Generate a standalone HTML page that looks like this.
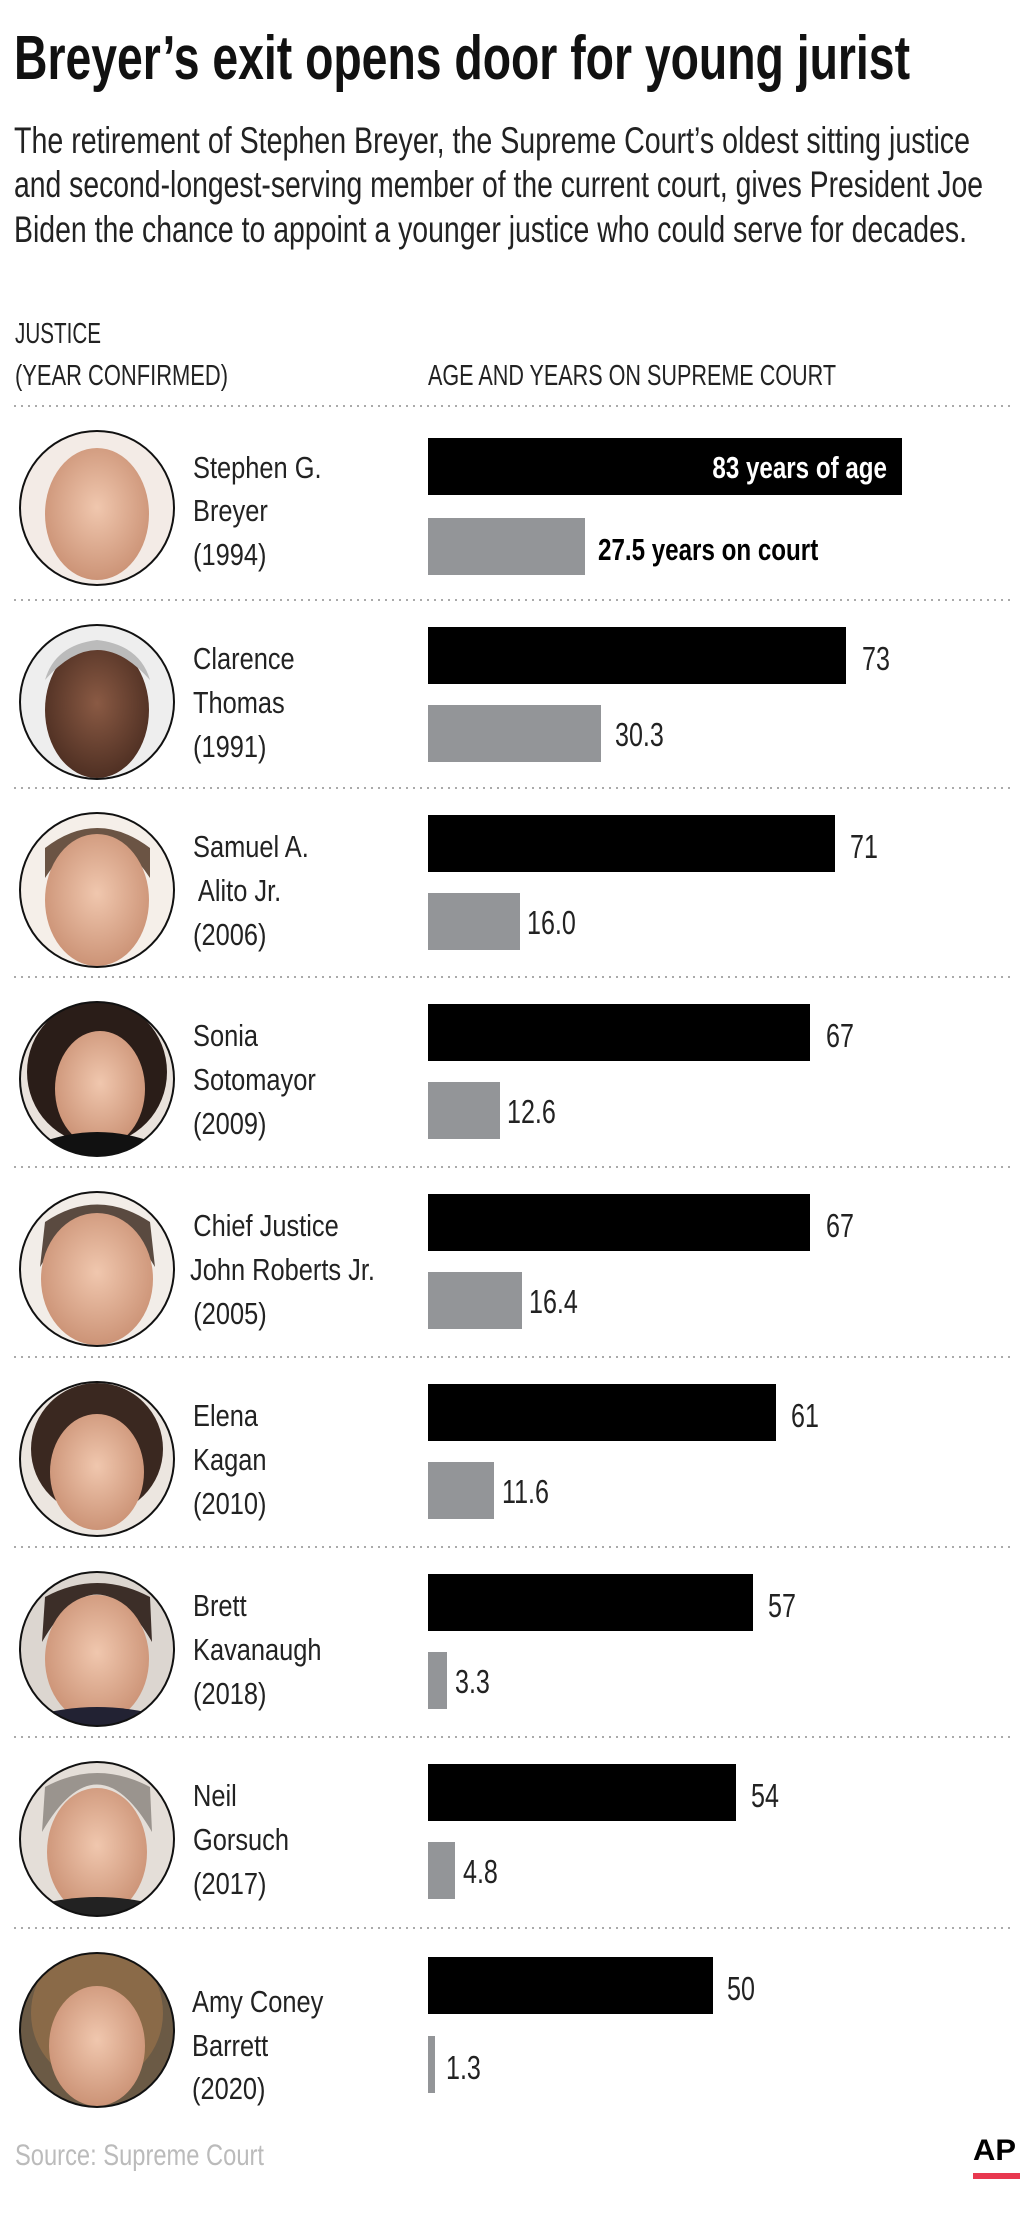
<!DOCTYPE html>
<html><head><meta charset="utf-8"><style>
html,body{margin:0;padding:0;background:#fff;}
svg{display:block;}
text{font-family:"Liberation Sans",sans-serif;}
</style></head><body>
<svg width="1024" height="2229" viewBox="0 0 1024 2229" xmlns="http://www.w3.org/2000/svg">
<defs>
<radialGradient id="skin" cx="50%" cy="45%" r="60%"><stop offset="0" stop-color="#f0c7ae"/><stop offset="1" stop-color="#c98f72"/></radialGradient>
<radialGradient id="dskin" cx="50%" cy="45%" r="60%"><stop offset="0" stop-color="#8a5a44"/><stop offset="1" stop-color="#4a2c20"/></radialGradient>
<clipPath id="cc"><circle cx="97" cy="102" r="77"/></clipPath>
</defs>
<text x="14" y="79" font-size="62" font-weight="bold" textLength="896" lengthAdjust="spacingAndGlyphs" fill="#111">Breyer’s exit opens door for young jurist</text>
<g font-size="37" fill="#222">
<text x="14" y="153" textLength="956" lengthAdjust="spacingAndGlyphs">The retirement of Stephen Breyer, the Supreme Court’s oldest sitting justice</text>
<text x="14" y="197" textLength="969" lengthAdjust="spacingAndGlyphs">and second-longest-serving member of the current court, gives President Joe</text>
<text x="14" y="242" textLength="953" lengthAdjust="spacingAndGlyphs">Biden the chance to appoint a younger justice who could serve for decades.</text>
</g>
<g font-size="29" fill="#222">
<text x="15" y="343" textLength="86" lengthAdjust="spacingAndGlyphs">JUSTICE</text>
<text x="15" y="385" textLength="213" lengthAdjust="spacingAndGlyphs">(YEAR CONFIRMED)</text>
<text x="428" y="385" textLength="408" lengthAdjust="spacingAndGlyphs">AGE AND YEARS ON SUPREME COURT</text>
</g>
<g stroke="#aaa" stroke-width="2" stroke-dasharray="2 5">
<line x1="14" y1="406" x2="1012" y2="406"/>
<line x1="14" y1="600" x2="1012" y2="600"/>
<line x1="14" y1="788" x2="1012" y2="788"/>
<line x1="14" y1="977" x2="1012" y2="977"/>
<line x1="14" y1="1167" x2="1012" y2="1167"/>
<line x1="14" y1="1357" x2="1012" y2="1357"/>
<line x1="14" y1="1547" x2="1012" y2="1547"/>
<line x1="14" y1="1737" x2="1012" y2="1737"/>
<line x1="14" y1="1928" x2="1012" y2="1928"/>
</g>

<g transform="translate(0,406)">
<g clip-path="url(#cc)"><circle cx="97" cy="102" r="77" fill="#f3ebe6"/><ellipse cx="97" cy="108" rx="52" ry="66" fill="url(#skin)"/></g>
<circle cx="97" cy="102" r="77" fill="none" stroke="#111" stroke-width="2"/>
<g font-size="31" fill="#222" transform="translate(193,0) scale(0.82,1)"><text x="0" y="72">Stephen G.</text><text x="0" y="115">Breyer</text><text x="0" y="159">(1994)</text></g>
<rect x="428" y="32" width="474" height="57" fill="#000"/>
<rect x="428" y="112" width="157" height="57" fill="#939598"/>
<g transform="translate(887,72) scale(0.78,1)"><text x="0" y="0" font-size="31" font-weight="bold" fill="#fff" text-anchor="end">83 years of age</text></g>
<g transform="translate(598,154) scale(0.78,1)"><text x="0" y="0" font-size="31" font-weight="bold" fill="#000">27.5 years on court</text></g>
</g>

<g transform="translate(0,600)">
<g clip-path="url(#cc)"><circle cx="97" cy="102" r="77" fill="#eee"/><ellipse cx="97" cy="110" rx="52" ry="68" fill="url(#dskin)"/><path d="M45 80 Q97 20 150 80 Q140 45 97 40 Q55 45 45 80Z" fill="#bbb"/></g>
<circle cx="97" cy="102" r="77" fill="none" stroke="#111" stroke-width="2"/>
<g font-size="31" fill="#222" transform="translate(193,0) scale(0.82,1)"><text x="0" y="69">Clarence</text><text x="0" y="113">Thomas</text><text x="0" y="157">(1991)</text></g>
<rect x="428" y="27" width="418" height="57" fill="#000"/><g transform="translate(862,70) scale(0.76,1)"><text font-size="33" fill="#222">73</text></g>
<rect x="428" y="105" width="173" height="57" fill="#939598"/><g transform="translate(615,146) scale(0.76,1)"><text font-size="33" fill="#222">30.3</text></g>
</g>

<g transform="translate(0,788)">
<g clip-path="url(#cc)"><circle cx="97" cy="102" r="77" fill="#f5efe9"/><path d="M45 90 Q97 10 150 90 L150 60 Q97 20 45 60Z" fill="#6b5444"/><ellipse cx="97" cy="112" rx="52" ry="66" fill="url(#skin)"/></g>
<circle cx="97" cy="102" r="77" fill="none" stroke="#111" stroke-width="2"/>
<g font-size="31" fill="#222" transform="translate(193,0) scale(0.82,1)"><text x="0" y="69">Samuel A.</text><text x="6" y="113">Alito Jr.</text><text x="0" y="157">(2006)</text></g>
<rect x="428" y="27" width="407" height="57" fill="#000"/><g transform="translate(850,70) scale(0.76,1)"><text font-size="33" fill="#222">71</text></g>
<rect x="428" y="105" width="92" height="57" fill="#939598"/><g transform="translate(527,146) scale(0.76,1)"><text font-size="33" fill="#222">16.0</text></g>
</g>

<g transform="translate(0,977)">
<g clip-path="url(#cc)"><circle cx="97" cy="102" r="77" fill="#e9e2dc"/><ellipse cx="97" cy="95" rx="70" ry="72" fill="#2a1d18"/><ellipse cx="100" cy="112" rx="45" ry="58" fill="url(#skin)"/><path d="M30 170 Q97 140 165 170 L165 190 L30 190Z" fill="#111"/></g>
<circle cx="97" cy="102" r="77" fill="none" stroke="#111" stroke-width="2"/>
<g font-size="31" fill="#222" transform="translate(193,0) scale(0.82,1)"><text x="0" y="69">Sonia</text><text x="0" y="113">Sotomayor</text><text x="0" y="157">(2009)</text></g>
<rect x="428" y="27" width="382" height="57" fill="#000"/><g transform="translate(826,70) scale(0.76,1)"><text font-size="33" fill="#222">67</text></g>
<rect x="428" y="105" width="72" height="57" fill="#939598"/><g transform="translate(507,146) scale(0.76,1)"><text font-size="33" fill="#222">12.6</text></g>
</g>

<g transform="translate(0,1167)">
<g clip-path="url(#cc)"><circle cx="97" cy="102" r="77" fill="#f2ede8"/><path d="M40 100 Q97 5 155 100 L150 55 Q97 20 45 55Z" fill="#5a4a40"/><ellipse cx="97" cy="112" rx="56" ry="66" fill="url(#skin)"/></g>
<circle cx="97" cy="102" r="77" fill="none" stroke="#111" stroke-width="2"/>
<g font-size="31" fill="#222" transform="translate(190,0) scale(0.82,1)"><text x="4" y="69">Chief Justice</text><text x="0" y="113">John Roberts Jr.</text><text x="4" y="157">(2005)</text></g>
<rect x="428" y="27" width="382" height="57" fill="#000"/><g transform="translate(826,70) scale(0.76,1)"><text font-size="33" fill="#222">67</text></g>
<rect x="428" y="105" width="94" height="57" fill="#939598"/><g transform="translate(529,146) scale(0.76,1)"><text font-size="33" fill="#222">16.4</text></g>
</g>

<g transform="translate(0,1357)">
<g clip-path="url(#cc)"><circle cx="97" cy="102" r="77" fill="#ece6e0"/><ellipse cx="97" cy="92" rx="66" ry="66" fill="#3a2820"/><ellipse cx="97" cy="115" rx="47" ry="58" fill="url(#skin)"/></g>
<circle cx="97" cy="102" r="77" fill="none" stroke="#111" stroke-width="2"/>
<g font-size="31" fill="#222" transform="translate(193,0) scale(0.82,1)"><text x="0" y="69">Elena</text><text x="0" y="113">Kagan</text><text x="0" y="157">(2010)</text></g>
<rect x="428" y="27" width="348" height="57" fill="#000"/><g transform="translate(791,70) scale(0.76,1)"><text font-size="33" fill="#222">61</text></g>
<rect x="428" y="105" width="66" height="57" fill="#939598"/><g transform="translate(502,146) scale(0.76,1)"><text font-size="33" fill="#222">11.6</text></g>
</g>

<g transform="translate(0,1547)">
<g clip-path="url(#cc)"><circle cx="97" cy="102" r="77" fill="#dcd6d0"/><path d="M42 95 Q97 0 152 95 L150 50 Q97 22 45 50Z" fill="#3c2e28"/><ellipse cx="97" cy="112" rx="52" ry="64" fill="url(#skin)"/><path d="M30 170 Q97 150 165 170 L165 190 L30 190Z" fill="#223"/></g>
<circle cx="97" cy="102" r="77" fill="none" stroke="#111" stroke-width="2"/>
<g font-size="31" fill="#222" transform="translate(193,0) scale(0.82,1)"><text x="0" y="69">Brett</text><text x="0" y="113">Kavanaugh</text><text x="0" y="157">(2018)</text></g>
<rect x="428" y="27" width="325" height="57" fill="#000"/><g transform="translate(768,70) scale(0.76,1)"><text font-size="33" fill="#222">57</text></g>
<rect x="428" y="105" width="19" height="57" fill="#939598"/><g transform="translate(455,146) scale(0.76,1)"><text font-size="33" fill="#222">3.3</text></g>
</g>

<g transform="translate(0,1737)">
<g clip-path="url(#cc)"><circle cx="97" cy="102" r="77" fill="#e4ded8"/><path d="M42 95 Q97 0 152 95 L150 50 Q97 22 45 50Z" fill="#9a948e"/><ellipse cx="97" cy="115" rx="50" ry="64" fill="url(#skin)"/><path d="M30 170 Q97 150 165 170 L165 190 L30 190Z" fill="#222"/></g>
<circle cx="97" cy="102" r="77" fill="none" stroke="#111" stroke-width="2"/>
<g font-size="31" fill="#222" transform="translate(193,0) scale(0.82,1)"><text x="0" y="69">Neil</text><text x="0" y="113">Gorsuch</text><text x="0" y="157">(2017)</text></g>
<rect x="428" y="27" width="308" height="57" fill="#000"/><g transform="translate(751,70) scale(0.76,1)"><text font-size="33" fill="#222">54</text></g>
<rect x="428" y="105" width="27" height="57" fill="#939598"/><g transform="translate(463,146) scale(0.76,1)"><text font-size="33" fill="#222">4.8</text></g>
</g>

<g transform="translate(0,1928)">
<g clip-path="url(#cc)"><circle cx="97" cy="102" r="77" fill="#6b5a45"/><ellipse cx="97" cy="85" rx="66" ry="70" fill="#8a6a48"/><ellipse cx="97" cy="118" rx="48" ry="60" fill="url(#skin)"/></g>
<circle cx="97" cy="102" r="77" fill="none" stroke="#111" stroke-width="2"/>
<g font-size="31" fill="#222" transform="translate(192,0) scale(0.82,1)"><text x="0" y="84">Amy Coney</text><text x="0" y="128">Barrett</text><text x="0" y="171">(2020)</text></g>
<rect x="428" y="29" width="285" height="57" fill="#000"/><g transform="translate(727,72) scale(0.76,1)"><text font-size="33" fill="#222">50</text></g>
<rect x="428" y="108" width="7" height="57" fill="#939598"/><g transform="translate(446,151) scale(0.76,1)"><text font-size="33" fill="#222">1.3</text></g>
</g>

<text x="15" y="2165" font-size="30" fill="#bbb" textLength="249" lengthAdjust="spacingAndGlyphs">Source: Supreme Court</text>
<text x="973" y="2160" font-size="30" font-weight="bold" fill="#000" textLength="43" lengthAdjust="spacingAndGlyphs">AP</text>
<rect x="973" y="2173" width="47" height="6" fill="#e8384f"/>
</svg>
</body></html>
